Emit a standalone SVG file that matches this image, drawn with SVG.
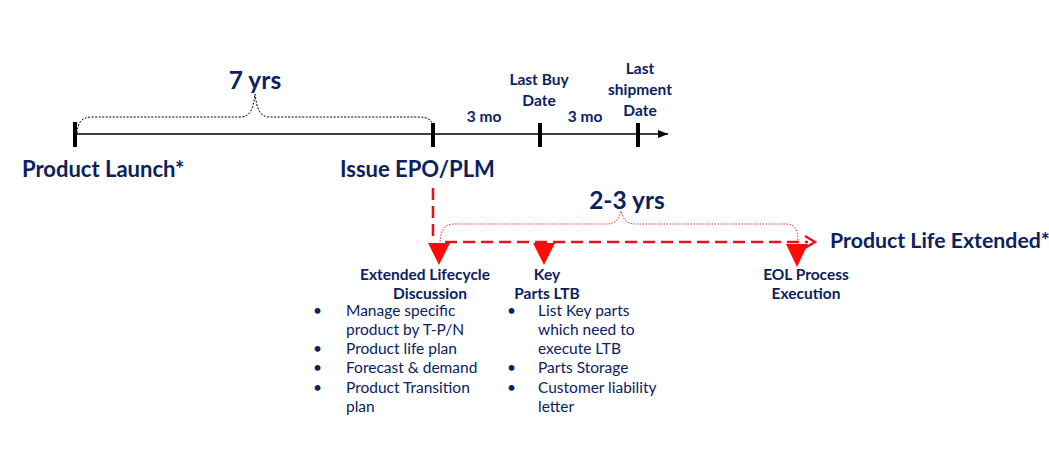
<svg xmlns="http://www.w3.org/2000/svg" width="1049" height="460" viewBox="0 0 1049 460">
<defs>
<style>
.t{font-family:Lato,"Open Sans","Liberation Sans",sans-serif;fill:#0B2161}
.big{font-size:24.5px;font-weight:bold}
.lab{font-size:22px;font-weight:bold}
.sm{font-size:15.5px;font-weight:bold}
.bl{font-size:15.5px}
.tick{stroke:#000;stroke-width:4}
.rd{stroke:#E3141B;stroke-width:2.6;fill:none;stroke-dasharray:12 6}
.tri{fill:#FF0A0A}
</style>
<marker id="ah" viewBox="0 0 10 10" refX="10" refY="5" markerWidth="10" markerHeight="10" markerUnits="userSpaceOnUse" orient="auto">
<path d="M0,1 L10,5 L0,9 Z" fill="#000"/>
</marker>
</defs>
<rect width="1049" height="460" fill="#fff"/>
<g id="connectors">
<line x1="75" y1="134" x2="668" y2="134" stroke="#000" stroke-width="1.6" marker-end="url(#ah)"/>
<path d="M77,133 C78,122 82,117 92,117 L240,117 C250,117 253,110 255,94 C257,110 260,117 270,117 L418,117 C428,117 431,120 432,123" fill="none" stroke="#000" stroke-width="1" stroke-dasharray="2 1.5"/>
<line x1="433" y1="188" x2="433" y2="242" class="rd"/>
<line x1="445" y1="242" x2="808" y2="242" class="rd"/>
<path d="M805,236 L815,242 L805,248" fill="none" stroke="#E3141B" stroke-width="2.4"/>
<path d="M440,242 C441,230 444,224 454,224 L606,224 C616,224 619,219 621,211 C623,219 626,224 636,224 L786,224 C795,224 798,230 798,241" fill="none" stroke="#E3141B" stroke-width="0.9" stroke-dasharray="1.5 1.5"/>
</g>
<g id="tick-launch"><line x1="75" y1="122" x2="75" y2="147" class="tick"/></g>
<g id="tick-epo"><line x1="433" y1="123" x2="433" y2="147" class="tick"/></g>
<g id="tick-lastbuy"><line x1="540" y1="123" x2="540" y2="147" class="tick"/></g>
<g id="tick-lastship"><line x1="638" y1="123" x2="638" y2="147" class="tick"/></g>
<g id="label-7yrs"><text x="255" y="89" text-anchor="middle" class="t big">7 yrs</text></g>
<g id="node-launch"><text x="22" y="177" class="t lab">Product Launch*</text></g>
<g id="node-epo"><text x="340" y="177" class="t lab">Issue EPO/PLM</text></g>
<g id="label-3mo-1"><text x="484" y="122" text-anchor="middle" class="t sm">3 mo</text></g>
<g id="label-3mo-2"><text x="585" y="122" text-anchor="middle" class="t sm">3 mo</text></g>
<g id="node-lastbuy"><text x="539" y="85" text-anchor="middle" class="t sm">Last Buy</text><text x="539" y="106" text-anchor="middle" class="t sm">Date</text></g>
<g id="node-lastship"><text x="640" y="74" text-anchor="middle" class="t sm">Last</text><text x="640" y="95" text-anchor="middle" class="t sm">shipment</text><text x="640" y="116" text-anchor="middle" class="t sm">Date</text></g>
<g id="label-23yrs"><text x="627" y="209" text-anchor="middle" class="t big">2-3 yrs</text></g>
<g id="node-extended"><text x="830" y="248" class="t lab" style="font-size:21.3px">Product Life Extended*</text></g>
<g id="node-elc">
<path d="M428,243 L450,243 L439,265 Z" class="tri"/>
<text x="425" y="280" text-anchor="middle" class="t sm">Extended Lifecycle</text>
<text x="430" y="299" text-anchor="middle" class="t sm">Discussion</text>
</g>
<g id="node-ltb">
<path d="M533,243 L555,243 L544,265 Z" class="tri"/>
<text x="547" y="280" text-anchor="middle" class="t sm">Key</text>
<text x="547" y="299" text-anchor="middle" class="t sm">Parts LTB</text>
</g>
<g id="node-eol">
<path d="M786,244 L808,244 L797,267 Z" class="tri"/>
<text x="806" y="280" text-anchor="middle" class="t sm">EOL Process</text>
<text x="806" y="299" text-anchor="middle" class="t sm">Execution</text>
</g>
<g id="bullets-elc" class="t bl">
<text x="313" y="316">•</text><text x="346" y="316">Manage specific</text>
<text x="346" y="335">product by T-P/N</text>
<text x="313" y="354">•</text><text x="346" y="354">Product life plan</text>
<text x="313" y="373">•</text><text x="346" y="373">Forecast &amp; demand</text>
<text x="313" y="393">•</text><text x="346" y="393">Product Transition</text>
<text x="346" y="412">plan</text>
</g>
<g id="bullets-ltb" class="t bl">
<text x="507" y="316">•</text><text x="538" y="316">List Key parts</text>
<text x="538" y="335">which need to</text>
<text x="538" y="354">execute LTB</text>
<text x="507" y="373">•</text><text x="538" y="373">Parts Storage</text>
<text x="507" y="393">•</text><text x="538" y="393">Customer liability</text>
<text x="538" y="412">letter</text>
</g>
</svg>
